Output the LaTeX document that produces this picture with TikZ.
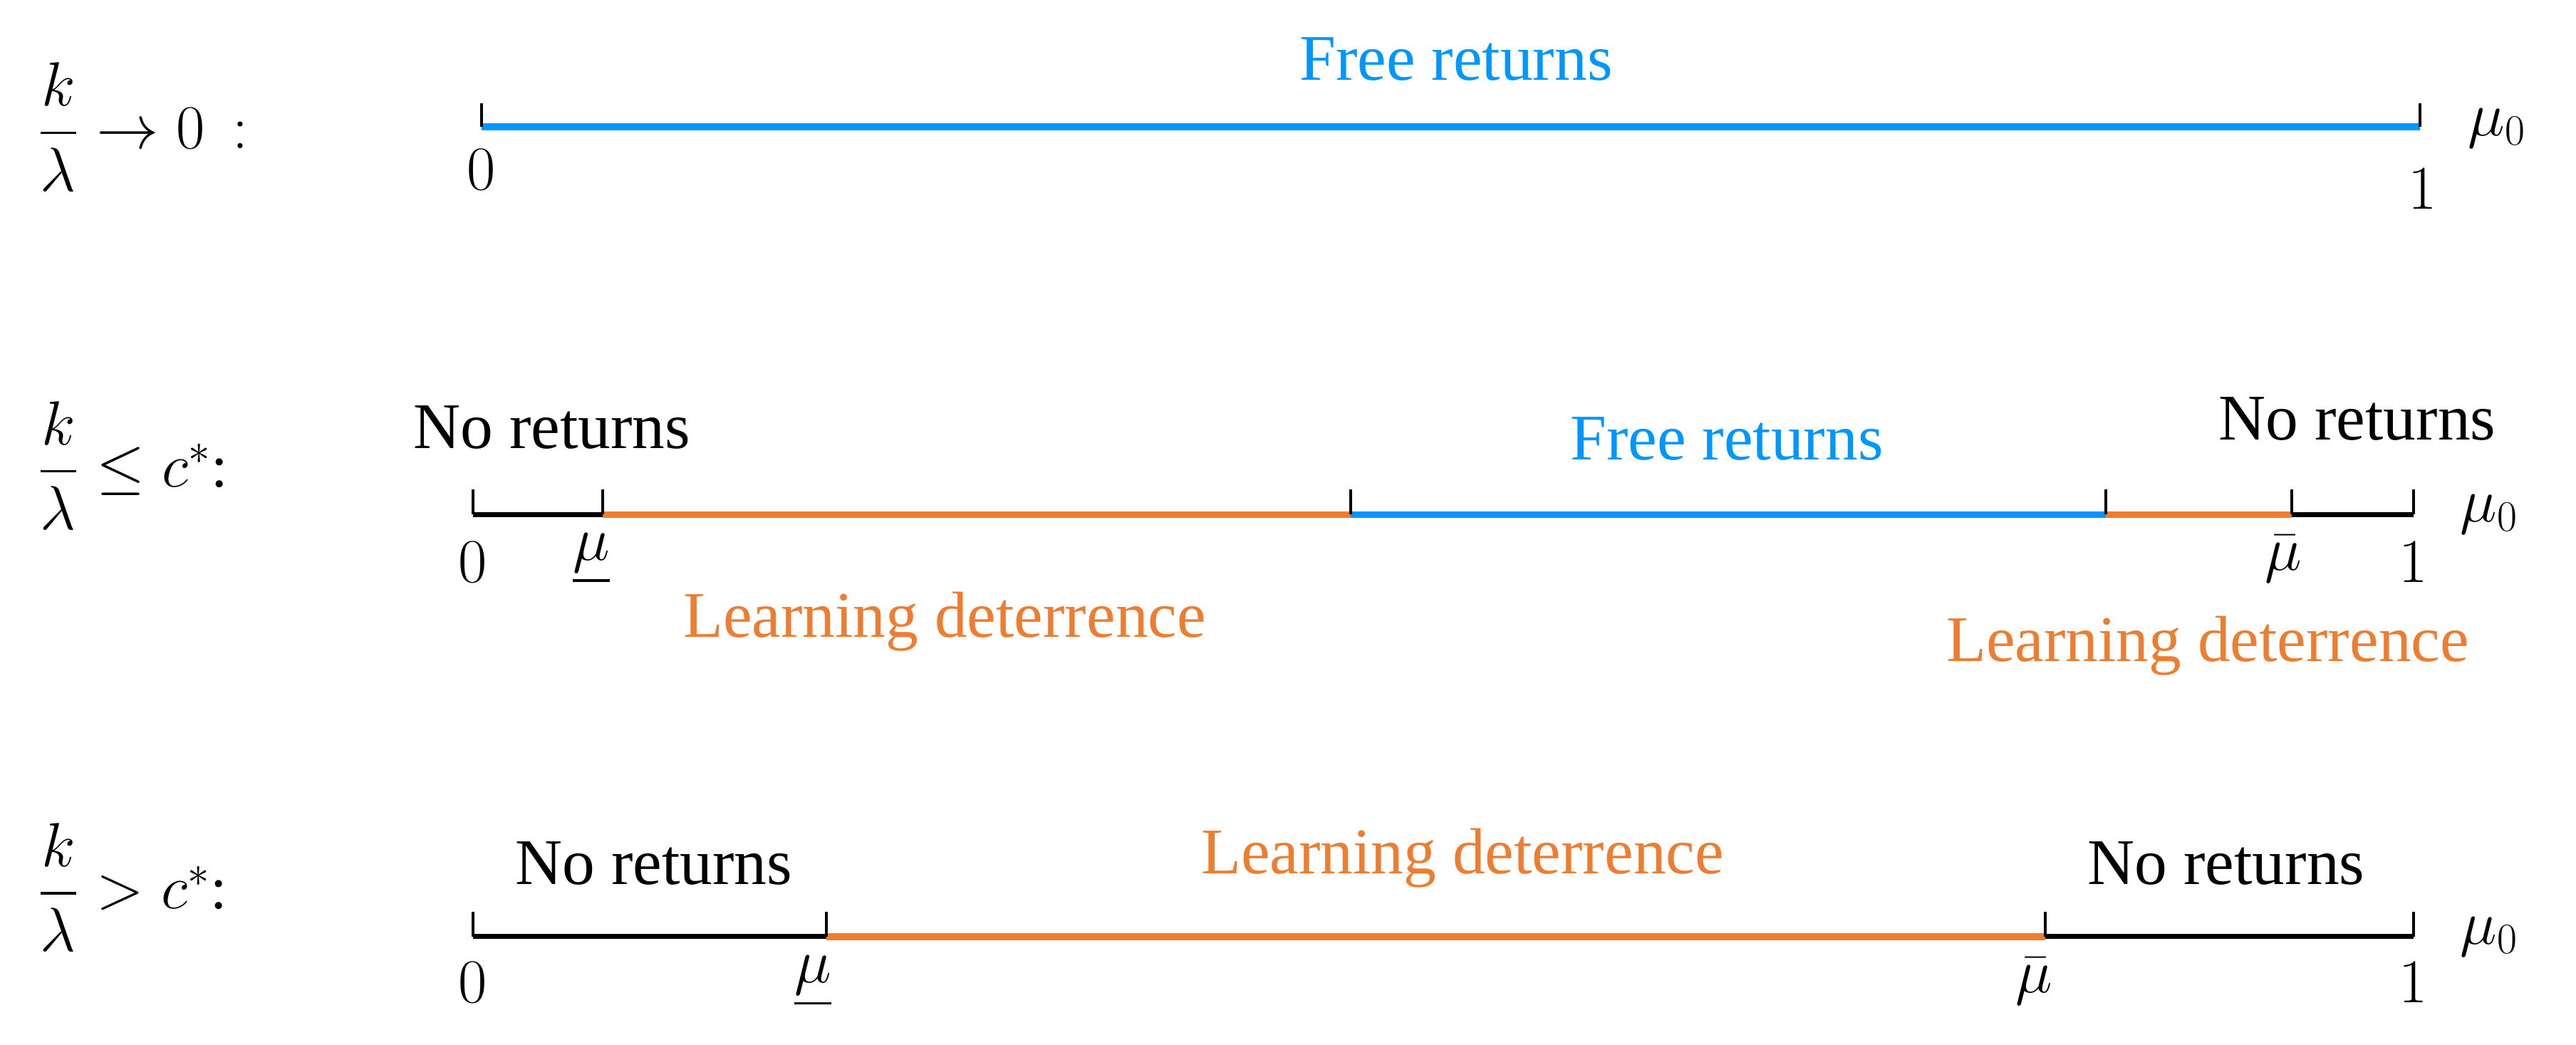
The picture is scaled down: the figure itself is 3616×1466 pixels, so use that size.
\documentclass[tikz,border=0pt]{standalone}
\usepackage{amsmath}
\usepackage{amssymb}
\usepackage{fontspec}
\setmainfont{Liberation Serif}
\usetikzlibrary{positioning}
\definecolor{freeblue}{RGB}{0,150,255}
\definecolor{detorange}{RGB}{237,125,49}

\begin{document}
\begin{tikzpicture}[x=0.01cm,y=-0.01cm,
    txt/.style={font=\fontsize{26}{30}\selectfont, inner sep=0pt},
    mlab/.style={font=\fontsize{24}{28}\selectfont, inner sep=0pt},
    blk/.style={line width=2pt, black},
    fr/.style={line width=2.7pt, freeblue},
    ld/.style={line width=2.7pt, detorange},
    tk/.style={line width=1.2pt}]
    \useasboundingbox (0,0) rectangle (3616,1466);

            % k/lambda -> 0
            \begin{scope}[yshift=-1.78cm]
                \coordinate (a) at (676,0);
                \coordinate (b) at (3397,0);

                \draw[fr] (a)--(b);

                \foreach \p in {a,b}{
                    \draw[tk] (\p)--++(0,-33);
                }

                \node[mlab,anchor=west] (cond1) at (52,0) {$\dfrac{k}{\lambda}\rightarrow 0\,:$};
                \node[txt,text=freeblue] (free1) at (2044,-95) {Free returns};
                \node[mlab] (zero1) at (676,60) {$0$};
                \node[mlab] (one1) at (3401,87) {$1$};
                \node[mlab] (mu1) at (3505,2) {$\mu_0$};
            \end{scope}

            % k/lambda <= c*
            \begin{scope}[yshift=-7.22cm]
                \coordinate (a) at (664,0);
                \coordinate (b) at (846,0);
                \coordinate (c) at (1896,0);
                \coordinate (d) at (2956,0);
                \coordinate (e) at (3217,0);
                \coordinate (f) at (3388,0);

                \draw[blk] (a)--(b);
                \draw[ld] (b)--(c);
                \draw[fr] (c)--(d);
                \draw[ld] (d)--(e);
                \draw[blk] (e)--(f);

                \foreach \p in {a,b,c,d,e,f}{
                    \draw[tk] (\p)--++(0,-35);
                }

                \node[mlab,anchor=west] (cond2) at (52,-69) {$\dfrac{k}{\lambda}\leq c^{*}$:};
                \node[txt] (none2l) at (775,-122) {No returns};
                \node[txt,text=freeblue] (free2) at (2424,-106) {Free returns};
                \node[txt] (none2r) at (3309,-134) {No returns};
                \node[txt,text=detorange] (det2l) at (1326,150) {Learning deterrence};
                \node[txt,text=detorange] (det2r) at (3099,184) {Learning deterrence};
                \node[mlab] (zero2) at (664,67) {$0$};
                \node[mlab] (low2) at (830,62) {$\underline{\mu}$};
                \node[mlab] (up2) at (3205,62) {$\bar{\mu}$};
                \node[mlab] (one2) at (3388,67) {$1$};
                \node[mlab] (mu2) at (3494,0) {$\mu_0$};
            \end{scope}

            % k/lambda > c*
            \begin{scope}[yshift=-13.14cm]
                \coordinate (a) at (664,0);
                \coordinate (b) at (1160,0);
                \coordinate (c) at (2871,0);
                \coordinate (d) at (3388,0);

                \draw[blk] (a)--(b);
                \draw[ld] (b)--(c);
                \draw[blk] (c)--(d);

                \foreach \p in {a,b,c,d}{
                    \draw[tk] (\p)--++(0,-35);
                }

                \node[mlab,anchor=west] (cond3) at (52,-69) {$\dfrac{k}{\lambda}> c^{*}$:};
                \node[txt] (none3l) at (918,-103) {No returns};
                \node[txt,text=detorange] (det3) at (2053,-110) {Learning deterrence};
                \node[txt] (none3r) at (3125,-103) {No returns};
                \node[mlab] (zero3) at (664,65) {$0$};
                \node[mlab] (low3) at (1141,63) {$\underline{\mu}$};
                \node[mlab] (up3) at (2855,63) {$\bar{\mu}$};
                \node[mlab] (one3) at (3388,65) {$1$};
                \node[mlab] (mu3) at (3494,0) {$\mu_0$};
            \end{scope}
        \end{tikzpicture}
\end{document}
